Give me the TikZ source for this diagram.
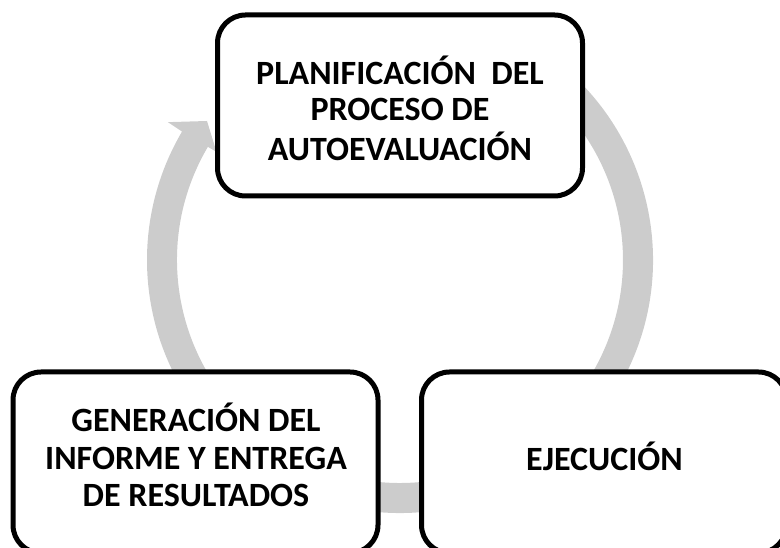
\documentclass[tikz,border=0pt]{standalone}
\usepackage{fontspec}
\setmainfont{Carlito}
\definecolor{ringgray}{RGB}{204,204,204}
\tikzset{
  stepbox/.style={draw=black, line width=5pt, fill=white, rounded corners=28pt,
    minimum width=365pt, minimum height=181pt, inner sep=0pt, outer sep=0pt},
  boxtext/.style={anchor=base, inner sep=0pt, font=\bfseries, text=black}
}
\begin{document}
\begin{tikzpicture}[x=1pt,y=1pt]
\useasboundingbox (0,0) rectangle (780,548);
\clip (0,0) rectangle (780,548);
% circular arrow (background)
\begin{scope}[shift={(400,288)}]
  \fill[ringgray] (60:253) arc[start angle=60, end angle=-210.5, radius=253]
    -- (-210.7:270) -- (-193,139) -- (-210.5:213) -- (-210.5:223)
    arc[start angle=-210.5, end angle=60, radius=223] -- cycle;
\end{scope}
% boxes
\node[stepbox] (plan) at (400,442.5) {};
\node[stepbox] (gen) at (195.5,85.5) {};
\node[stepbox] (ejec) at (604,85.5) {};
% texts
\node[boxtext] (plantext) at (400,463) {\fontsize{34}{36}\selectfont\begin{tabular}[t]{@{}c@{}}PLANIFICACIÓN\ \ DEL\\PROCESO DE\\AUTOEVALUACIÓN\end{tabular}};
\node[boxtext] (gentext) at (196,116) {\fontsize{34}{37.5}\selectfont\begin{tabular}[t]{@{}c@{}}GENERACIÓN DEL\\INFORME Y ENTREGA\\DE RESULTADOS\end{tabular}};
\node[boxtext] (ejectext) at (604.5,77) {\fontsize{34}{36}\selectfont EJECUCIÓN};
\end{tikzpicture}
\end{document}
